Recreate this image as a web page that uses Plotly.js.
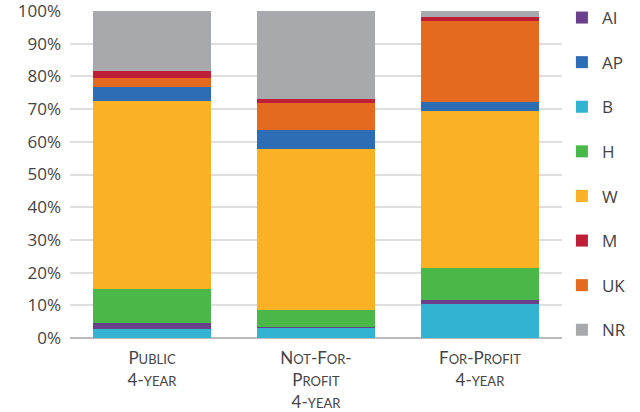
<!DOCTYPE html>
<html>
<head>
<meta charset="utf-8">
<script src="https://cdn.plot.ly/plotly-3.0.1.min.js"></script>
<style>html,body{margin:0;padding:0;background:#fff;}#chart{width:640px;height:412px;}</style>
</head>
<body>
<div id="chart"></div>
<script>
var categories = ['Public 4-year', 'Not-For-Profit 4-year', 'For-Profit 4-year'];
var tickLabels = [
  'P<span style="font-size:13px">UBLIC</span><br>4-<span style="font-size:13px">YEAR</span>',
  'N<span style="font-size:13px">OT</span>-F<span style="font-size:13px">OR</span>-<br>P<span style="font-size:13px">ROFIT</span><br>4-<span style="font-size:13px">YEAR</span>',
  'F<span style="font-size:13px">OR</span>-P<span style="font-size:13px">ROFIT</span><br>4-<span style="font-size:13px">YEAR</span>'
];
// series in stacking order (bottom to top), values in %
var B  = [2.7, 3.0, 10.4];
var AI = [1.8, 0.3, 1.2];
var H  = [10.5, 5.3, 9.8];
var W  = [57.5, 49.2, 48.0];
var AP = [4.3, 5.8, 2.9];
var UK = [2.8, 8.3, 24.6];
var M  = [2.0, 1.2, 1.3];
var NR = [18.4, 26.9, 1.8];

var seriesNames = ['B', 'AI', 'H', 'W', 'AP', 'UK', 'M', 'NR'];
var seriesValues = [B, AI, H, W, AP, UK, M, NR];
var seriesColors = ['#31b3d1', '#6a3f8c', '#4ab848', '#fbb124', '#2c6db5', '#e5691f', '#be1e37', '#a7a9ac'];
var legendOrder = ['AI', 'AP', 'B', 'H', 'W', 'M', 'UK', 'NR'];

var traces = seriesNames.map(function (n, i) {
  return {
    type: 'bar',
    name: n,
    x: categories,
    y: seriesValues[i],
    marker: {color: seriesColors[i], line: {width: 0}},
    legendgroup: n,
    legendrank: legendOrder.indexOf(n) + 1,
    hoverinfo: 'skip'
  };
});

var layout = {
  width: 640, height: 412,
  margin: {l: 70, r: 75, t: 11, b: 74, pad: 0},
  paper_bgcolor: '#fff', plot_bgcolor: '#fff',
  barmode: 'stack',
  bargap: 0.28,
  font: {family: 'Lato, sans-serif', color: '#444'},
  xaxis: {
    type: 'category',
    tickvals: categories,
    ticktext: tickLabels,
    tickfont: {family: 'Lato, sans-serif', size: 17, color: '#444'},
    showgrid: false, zeroline: false, showline: false, ticks: '',
    ticklabelstandoff: 8
  },
  yaxis: {
    range: [0, 100],
    tickvals: [0, 10, 20, 30, 40, 50, 60, 70, 80, 90, 100],
    ticktext: ['0%', '10%', '20%', '30%', '40%', '50%', '60%', '70%', '80%', '90%', '100%'],
    tickfont: {family: 'Open Sans, sans-serif', size: 17, color: '#444'},
    ticklabeloverflow: 'allow',
    showgrid: true, gridcolor: '#dedede', gridwidth: 2,
    zeroline: true, zerolinecolor: '#bbbbbb', zerolinewidth: 2,
    ticks: '', ticklabelstandoff: 8
  },
  legend: {
    xref: 'container', yref: 'container',
    x: 0.878, xanchor: 'left', y: 1.0, yanchor: 'top',
    traceorder: 'grouped', tracegroupgap: 19.5,
    maxheight: 412,
    font: {family: 'Open Sans, sans-serif', size: 17, color: '#444'},
    itemwidth: 30,
    bgcolor: 'rgba(0,0,0,0)'
  },
  showlegend: true
};

Plotly.newPlot('chart', traces, layout, {displayModeBar: false, staticPlot: true});
</script>
</body>
</html>
